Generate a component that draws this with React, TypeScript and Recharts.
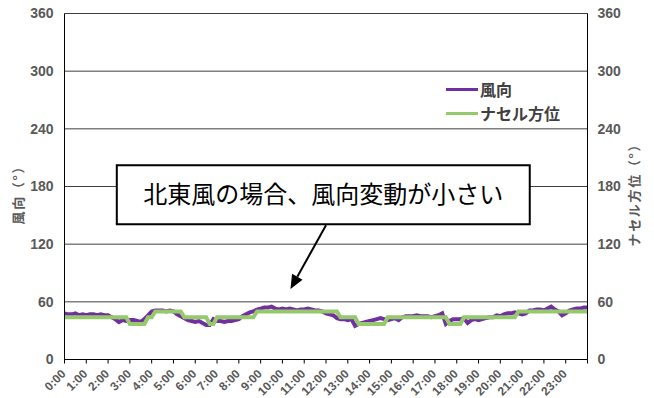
import React from 'react';
import {
  LineChart,
  Line,
  XAxis,
  YAxis,
  CartesianGrid,
  Legend,
  ReferenceArea,
  ReferenceLine,
} from 'recharts';

// 10-minute samples, 0:00 .. 24:00
const WIND_DIR = [
  48, 47, 47, 48, 46, 47,
  46, 47, 47, 46, 47, 46,
  46, 44, 42, 39, 41, 40,
  41, 41, 40, 39, 42, 46,
  50, 51, 51, 51, 50, 51,
  50, 47, 45, 43, 41, 40,
  39, 40, 38, 36, 36, 42,
  40, 40, 39, 40, 40, 41,
  42, 45, 47, 49, 50, 52,
  53, 54, 54, 55, 53, 52,
  53, 52, 53, 52, 51, 52,
  52, 53, 52, 51, 51, 50,
  48, 47, 46, 43, 42, 42,
  41, 42, 35, 37, 38, 39,
  40, 41, 42, 43, 42, 41,
  42, 43, 41, 44, 45, 45,
  45, 46, 45, 45, 45, 44,
  45, 46, 48, 37, 40, 42,
  42, 42, 43, 38, 41, 42,
  41, 42, 43, 44, 44, 46,
  45, 47, 48, 48, 49, 48,
  47, 48, 51, 51, 52, 52,
  51, 53, 55, 52, 50, 46,
  48, 51, 52, 53, 53, 54,
  54,
];

const NACELLE_DIR = [
  44, 44, 44, 44, 44, 44,
  44, 44, 44, 44, 44, 44,
  44, 44, 44, 44, 44, 44,
  37, 37, 37, 37, 37, 44,
  44, 50, 50, 50, 50, 50,
  50, 50, 50, 44, 44, 44,
  44, 44, 44, 44, 37, 37,
  44, 44, 44, 44, 44, 44,
  44, 44, 44, 44, 44, 50,
  50, 50, 50, 50, 50, 50,
  50, 50, 50, 50, 50, 50,
  50, 50, 50, 50, 50, 50,
  50, 50, 50, 50, 44, 44,
  44, 44, 44, 37, 37, 37,
  37, 37, 37, 37, 37, 44,
  44, 44, 44, 44, 44, 44,
  44, 44, 44, 44, 44, 44,
  44, 44, 44, 44, 37, 37,
  37, 37, 44, 44, 44, 44,
  44, 44, 44, 44, 44, 44,
  44, 44, 44, 44, 44, 50,
  50, 50, 50, 50, 50, 50,
  50, 50, 50, 50, 50, 50,
  50, 50, 50, 50, 50, 50,
  50,
];

const HOUR_LABELS = [
  '0:00', '1:00', '2:00', '3:00', '4:00', '5:00', '6:00', '7:00',
  '8:00', '9:00', '10:00', '11:00', '12:00', '13:00', '14:00', '15:00',
  '16:00', '17:00', '18:00', '19:00', '20:00', '21:00', '22:00', '23:00',
];
const HOUR_TICKS = [...HOUR_LABELS.map((_, i) => i), 24];
const DEG_TICKS = [0, 60, 120, 180, 240, 300, 360];

const SERIES = [
  { key: 'wind', name: '風向', color: '#7030A0' },
  { key: 'nacelle', name: 'ナセル方位', color: '#95C96B' },
];

const data = WIND_DIR.map((w, i) => ({ t: i / 6, wind: w, nacelle: NACELLE_DIR[i] }));

const NUM_FONT = "'Liberation Sans Narrow', 'Arial Narrow', 'Liberation Sans', sans-serif";
const JP_FONT = "'Noto Sans CJK JP', 'Noto Sans', sans-serif";

function HourTick({ x, y, payload }: any) {
  const label = HOUR_LABELS[payload.value];
  if (!label) return null;
  const ax = x + 2;
  const ay = y + 9;
  return (
    <text
      x={ax}
      y={ay}
      transform={`rotate(-45 ${ax} ${ay})`}
      textAnchor="end"
      fill="#595959"
      fontSize={12}
      fontWeight={700}
      fontFamily={NUM_FONT}
    >
      {label}
    </text>
  );
}

// rotated axis title, stretched to the full-width spacing of the bracketed unit
function AxisTitle({ viewBox, value, cx, span }: any) {
  const cy = viewBox.y + viewBox.height / 2 + 6;
  return (
    <text
      x={cx}
      y={cy}
      transform={`rotate(-90 ${cx} ${cy})`}
      textAnchor="middle"
      dominantBaseline="central"
      textLength={span}
      lengthAdjust="spacing"
      fill="#595959"
      fontSize={13}
      fontWeight={700}
      fontFamily={JP_FONT}
    >
      {value}
    </text>
  );
}

function LegendBox() {
  return (
    <div style={{ fontFamily: JP_FONT, fontWeight: 700, fontSize: 16, color: '#404040' }}>
      {SERIES.map((s) => (
        <div key={s.key} style={{ display: 'flex', alignItems: 'center', height: 24 }}>
          <span style={{ width: 32, height: 3, background: s.color, marginRight: 2 }} />
          <span>{s.name}</span>
        </div>
      ))}
    </div>
  );
}

function Arrow({ x1, y1, x2, y2 }: any) {
  const dx = x2 - x1;
  const dy = y2 - y1;
  const len = Math.hypot(dx, dy);
  const ux = dx / len;
  const uy = dy / len;
  const bx = x2 - ux * 14;
  const by = y2 - uy * 14;
  const px = -uy * 6;
  const py = ux * 6;
  return (
    <g>
      <line x1={x1} y1={y1} x2={bx} y2={by} stroke="#000" strokeWidth={2} />
      <polygon points={`${x2},${y2} ${bx + px},${by + py} ${bx - px},${by - py}`} fill="#000" />
    </g>
  );
}

export default function App() {
  return (
    <div style={{ position: 'absolute', left: 0, top: 0, width: 654, height: 398, background: '#fff' }}>
      <LineChart
        width={654}
        height={398}
        data={data}
        margin={{ top: 13.5, right: 6.5, bottom: 0, left: 4.5 }}
      >
        <CartesianGrid yAxisId="left" vertical={false} stroke="#404040" strokeWidth={1} />
        <XAxis
          dataKey="t"
          type="number"
          domain={[0, 24]}
          ticks={HOUR_TICKS}
          interval={0}
          height={38.5}
          tickSize={4}
          tickMargin={2}
          axisLine={{ stroke: '#000' }}
          tickLine={{ stroke: '#000' }}
          tick={<HourTick />}
        />
        <YAxis
          yAxisId="left"
          orientation="left"
          width={60}
          domain={[0, 360]}
          ticks={DEG_TICKS}
          interval={0}
          tickSize={0}
          tickMargin={11}
          tickLine={false}
          axisLine={{ stroke: '#000' }}
          tick={{ fill: '#595959', fontSize: 14, fontWeight: 700, fontFamily: NUM_FONT }}
          label={<AxisTitle value="風向（°）" cx={17.5} span={64} />}
        />
        <YAxis
          yAxisId="right"
          orientation="right"
          width={60}
          domain={[0, 360]}
          ticks={DEG_TICKS}
          interval={0}
          tickSize={0}
          tickMargin={10}
          tickLine={false}
          axisLine={{ stroke: '#000' }}
          tick={{ fill: '#595959', fontSize: 14, fontWeight: 700, fontFamily: NUM_FONT }}
          label={<AxisTitle value="ナセル方位（°）" cx={633.5} span={108} />}
        />
        <ReferenceArea
          yAxisId="left"
          x1={2.4}
          x2={21.35}
          y1={140.6}
          y2={202}
          fill="#fff"
          fillOpacity={1}
          stroke="#000"
          strokeWidth={2}
          label={{
            value: '北東風の場合、風向変動が小さい',
            position: 'center',
            fill: '#000',
            fontSize: 24,
            fontFamily: JP_FONT,
          }}
        />
        <ReferenceLine
          yAxisId="left"
          segment={[
            { x: 12.0, y: 139.6 },
            { x: 10.37, y: 73.4 },
          ]}
          shape={<Arrow />}
        />
        <Legend
          layout="vertical"
          align="center"
          verticalAlign="middle"
          content={<LegendBox />}
          wrapperStyle={{ position: 'absolute', left: 446, top: 77, width: 150 }}
        />
        <Line
          yAxisId="left"
          dataKey="wind"
          name="風向"
          stroke="#7030A0"
          strokeWidth={4}
          dot={false}
          isAnimationActive={false}
        />
        <Line
          yAxisId="right"
          dataKey="nacelle"
          name="ナセル方位"
          stroke="#95C96B"
          strokeWidth={4}
          dot={false}
          isAnimationActive={false}
        />
      </LineChart>
    </div>
  );
}
